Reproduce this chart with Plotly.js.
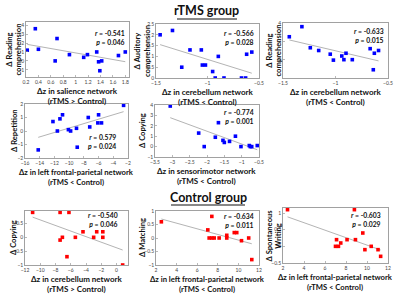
<!DOCTYPE html>
<html><head><meta charset="utf-8">
<script src="https://cdn.plot.ly/plotly-3.0.1.min.js"></script>
<style>html,body{margin:0;padding:0;background:#fff}#g{width:400px;height:295px}</style>
</head><body><div id="g"></div>
<script>
// ---- data ----
const p1x = [0.22,0.35,0.40,0.67,0.70,0.90,1.13,1.19,1.34,1.37,1.42,1.39,1.69,1.80];
const p1y = [1.2,3.6,1.3,0.0,2.5,0.7,0.4,0.7,1.0,-0.1,0.0,-1.1,0.6,1.0];
const p2x = [-1.46,-1.34,-1.25,-1.17,-1.06,-1.05,-1.02,-0.95,-0.925,-0.895,-0.84,-0.67,-0.63,-0.62,-0.57];
const p2y = [2.0,2.2,0.5,1.3,1.3,0.6,0.6,0.3,0.0,1.0,0.0,0.0,0.0,1.1,1.2];
const p3x = [-1.44,-1.32,-1.24,-1.16,-1.05,-1.02,-0.94,-0.92,-0.90,-0.84,-0.67,-0.63,-0.59,-0.64];
const p3y = [2.5,3.6,1.3,1.0,0.6,-0.05,0.4,0.0,0.7,0.0,1.2,0.7,1.0,-1.1];
const p4x = [-14.2,-12.2,-11.6,-11.25,-10.9,-10.1,-9.8,-9.0,-8.9,-7.4,-7.2,-6.1,-6.0,-5.6,-2.6];
const p4y = [-1.4,0.7,0.0,0.9,1.2,0.1,0.0,0.2,-1.2,1.0,0.3,0.6,1.2,0.6,1.9];
const p5x = [-3.06,-2.24,-2.08,-1.76,-1.67,-1.54,-1.50,-1.35,-1.18,-1.02,-0.78,-0.75,-0.71,-0.55];
const p5y = [3.9,1.3,0.0,0.9,2.3,0.6,0.4,0.5,1.0,0.0,0.1,0.0,0.0,0.1];
const p6x = [-11.0,-7.4,-6.24,-7.4,-7.1,-6.5,-5.4,-4.4,-3.0,-2.6,-1.8,-1.8,0.8];
const p6y = [0.9,0.9,0.9,-0.1,0.0,-0.7,0.0,0.2,0.0,0.2,0.0,0.2,-1.0];
const p7x = [2.52,7.03,7.16,7.42,7.42,7.65,8.13,8.87,8.87,9.6,9.84,10.3,11.0,11.3];
const p7y = [0.6,0.3,0.0,0.8,0.0,0.0,0.0,0.1,0.0,0.2,0.2,-0.1,0.0,-0.8];
const p8x = [2.43,8.8,7.1,7.0,7.28,7.5,8.1,8.9,9.6,9.8,10.4,11.05,11.3];
const p8y = [1.1,1.1,0.2,0.0,0.0,0.1,0.2,0.2,0.4,-0.1,0.0,-0.1,-0.3];

const yTitles = [["Δ Reading","comprehension"],["Δ Auditory","comprehension"],["Δ Reading","comprehension"],
                 ["Δ Repetition"],["Δ Copying"],["Δ Copying"],["Δ Matching"],["Δ Spontaneous","Writing"]];
const xTitles = [["Δz in salience network","(rTMS > Control)"],["Δz in cerebellum network","(rTMS < Control)"],
                 ["Δz in cerebellum network","(rTMS < Control)"],["Δz in left frontal-parietal network","(rTMS < Control)"],
                 ["Δz in sensorimotor network","(rTMS < Control)"],["Δz in cerebellum network","(rTMS > Control)"],
                 ["Δz in left frontal-parietal network","(rTMS < Control)"],["Δz in left frontal-parietal network","(rTMS < Control)"]];
const rVals = ["-0.541","-0.566","-0.633","0.579","-0.774","-0.540","-0.634","-0.603"];
const pVals = ["0.046","0.028","0.015","0.024","0.001","0.046","0.011","0.029"];
const groupTitles = ["rTMS group","Control group"];

const xTicks = [[0.2,0.4,0.6,0.8,1,1.2,1.4,1.6,1.8],[-1.5,-1,-0.5],[-1.5,-1,-0.5],[-16,-14,-12,-10,-8,-6,-4,-2],
                [-3.5,-3,-2.5,-2,-1.5,-1,-0.5],[-12,-10,-8,-6,-4,-2,0],[2,4,6,8,10,12],[2,4,6,8,10,12]];
const yTicks = [[-1,0,1,2,3,4],[0,0.5,1,1.5,2,2.5],[0,2,4],[-2,-1,0,1,2],[-1,0,1,2,3,4],[-1,-0.5,0,0.5],
                [-1,-0.5,0,0.5,1],[-0.5,0,0.5,1]];

// ---- layout geometry ----
const W=400,H=295;
const boxes = [ // L,R,T,B px
  [26,129,22,77],[156,259,24,78],[283,388,23,78],
  [25,128,104,158],[155,259,105,157],
  [25,128,211,265],[156,259,211,265],[283,388,208,263]];
const xR = [[0.2,1.86],[-1.5,-0.5],[-1.5,-0.5],[-16,-2],[-3.5,-0.5],[-12,1.5],[2,12],[2,12]];
const yR = [[-1.8,4.35],[0,2.5],[-2,4],[-2,2],[-1,4],[-1,0.95],[-1,1],[-0.5,1.15]];
const series = [[p1x,p1y],[p2x,p2y],[p3x,p3y],[p4x,p4y],[p5x,p5y],[p6x,p6y],[p7x,p7y],[p8x,p8y]];
const colors = ['#0000ff','#0000ff','#0000ff','#0000ff','#0000ff','#ff0000','#ff0000','#ff0000'];
const yTitleX = [13,142,274,14,142,13,142,273];
const statPos = [[127,37],[256,37],[386,36],[118,141],[256,116],[120,219],[256,220],[383,219]];

const FONT="Lato, 'Liberation Sans', sans-serif";
const TFONT="Lato, sans-serif";
const cx=document.createElement('canvas').getContext('2d');
function textW(s,size){cx.font='bold '+size+'px Lato';return cx.measureText(s).width;}
function fitSize(lines,base,maxW){let s=base;const w=Math.max(...lines.map(l=>textW(l,base)));if(w>maxW)s=base*maxW/w;return Math.max(6,s);}

function fit(xs,ys){
  const n=xs.length; let mx=0,my=0; for(let i=0;i<n;i++){mx+=xs[i];my+=ys[i];} mx/=n;my/=n;
  let sxx=0,sxy=0; for(let i=0;i<n;i++){sxx+=(xs[i]-mx)**2;sxy+=(xs[i]-mx)*(ys[i]-my);}
  const b=sxy/sxx,a=my-b*mx; const x0=Math.min(...xs),x1=Math.max(...xs);
  return {x:[x0,x1],y:[a+b*x0,a+b*x1]};
}
const px=x=>x/W, py=y=>1-y/H;
const data=[], annotations=[], shapes=[];
const layout={width:W,height:H,margin:{l:0,r:0,t:0,b:0},showlegend:false,
  paper_bgcolor:'#fff',plot_bgcolor:'#fff',font:{family:FONT}};

function ann(text,x,y,o){annotations.push(Object.assign({text:text,x:px(x),y:py(y),xref:'paper',yref:'paper',
  showarrow:false,xanchor:'center',yanchor:'middle',font:{family:FONT,size:9,color:'#111'}},o||{}));}

boxes.forEach((b,i)=>{
  const k=i===0?'':String(i+1);
  const [L,R,T,B]=b;
  const ax={domain:[px(L),px(R)],showgrid:false,zeroline:false,showline:true,mirror:true,linecolor:'#8a8a8a',linewidth:0.8,
    ticks:'inside',ticklen:2,tickcolor:'#8a8a8a',tickwidth:0.6,tickfont:{family:FONT,size:5,color:'#444'},fixedrange:true};
  layout['xaxis'+k]=Object.assign({},ax,{range:xR[i],tickvals:xTicks[i],anchor:'y'+k});
  layout['yaxis'+k]=Object.assign({},ax,{domain:[py(B),py(T)],range:yR[i],tickvals:yTicks[i],anchor:'x'+k});
  const [xs,ys]=series[i]; const f=fit(xs,ys);
  data.push({type:'scatter',mode:'lines',x:f.x,y:f.y,xaxis:'x'+k,yaxis:'y'+k,line:{color:'#b4b4b4',width:1},hoverinfo:'skip'});
  data.push({type:'scatter',mode:'markers',x:xs,y:ys,xaxis:'x'+k,yaxis:'y'+k,
    marker:{symbol:'square',size:3.6,color:colors[i],line:{width:0}}});
  const yc=(T+B)/2, xc=(L+R)/2;
  ann(yTitles[i].map(t=>'<b>'+t+'</b>').join('<br>'),yTitleX[i],yc,{textangle:-90,font:{family:TFONT,size:7.6,color:'#111'}});
  const ts=fitSize(xTitles[i],8,114);
  ann(xTitles[i].map(t=>'<b>'+t+'</b>').join('<br>'),xc,B+7,{yanchor:'top',font:{family:TFONT,size:ts,color:'#111'}});
  ann('<b><i>r</i> = '+rVals[i]+'<br><i>p</i> = '+pVals[i]+'</b>',statPos[i][0],statPos[i][1],
      {xanchor:'right',align:'right',font:{family:FONT,size:6.8,color:'#111'}});
});
ann('<b>'+groupTitles[0]+'</b>',207,11,{font:{family:FONT,size:12.5,color:'#111'}});
ann('<b>'+groupTitles[1]+'</b>',208,197,{font:{family:FONT,size:12.5,color:'#111'}});
shapes.push({type:'line',xref:'paper',yref:'paper',x0:px(177),x1:px(237),y0:py(19),y1:py(19),line:{color:'#111',width:1.2}});
shapes.push({type:'line',xref:'paper',yref:'paper',x0:px(171),x1:px(245),y0:py(205),y1:py(205),line:{color:'#111',width:1.2}});
layout.annotations=annotations; layout.shapes=shapes;
Plotly.newPlot('g',data,layout,{displayModeBar:false,staticPlot:true});
</script></body></html>
